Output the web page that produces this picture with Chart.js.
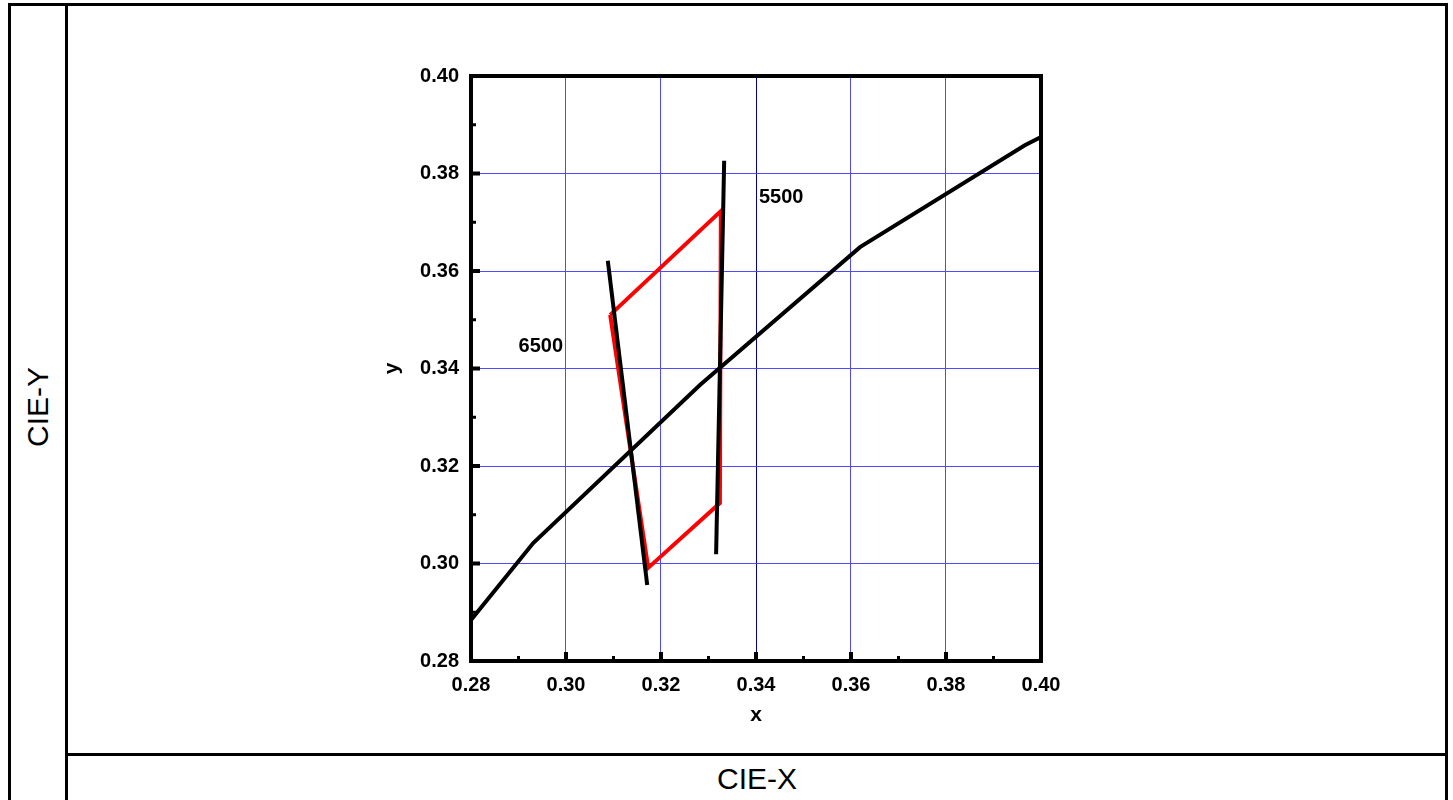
<!DOCTYPE html>
<html>
<head>
<meta charset="utf-8">
<script src="https://cdn.jsdelivr.net/npm/chart.js@4/dist/chart.umd.min.js"></script>
<style>
  body { margin: 0; background: #fff; }
  #wrap { position: relative; width: 1453px; height: 800px; overflow: hidden; font-family: 'Liberation Sans', Arial, sans-serif; }
  .ln { position: absolute; background: #000; }
  .lbl { position: absolute; font-size: 30px; color: #000; }
  canvas { position: absolute; left: 0; top: 0; }
</style>
</head>
<body>
<div id="wrap">
  <div class="ln" style="left:8px;top:3px;width:1440px;height:3px"></div>
  <div class="ln" style="left:8px;top:3px;width:3px;height:800px"></div>
  <div class="ln" style="left:65px;top:3px;width:3px;height:800px"></div>
  <div class="ln" style="left:1445px;top:3px;width:3px;height:800px"></div>
  <div class="ln" style="left:65px;top:753px;width:1383px;height:3px"></div>
  <div class="lbl" style="left:657px;top:762px;width:200px;text-align:center">CIE-X</div>
  <div class="lbl" style="left:-62px;top:390px;width:200px;text-align:center;transform:rotate(-90deg)">CIE-Y</div>
  <canvas id="myChart" width="1453" height="800"></canvas>
</div>
<script>
// planckian locus
const locusX = [0.28, 0.2931, 0.3282, 0.3619, 0.3966, 0.40];
const locusY = [0.2884, 0.3042, 0.3366, 0.3649, 0.3858, 0.3875];

// isotherms
const iso6500X = [0.3088, 0.3171];
const iso6500Y = [0.3621, 0.2956];
const iso5500X = [0.3333, 0.3316];
const iso5500Y = [0.3826, 0.3019];

// red quadrangle
const quadX = [0.3093, 0.3326, 0.3324, 0.3173, 0.3093];
const quadY = [0.3510, 0.3723, 0.3124, 0.2991, 0.3510];

const tempLabels = ['5500', '6500'];
const tempLabelX = [0.3453, 0.2947];
const tempLabelY = [0.3750, 0.3446];

const minorTicks = [0.29, 0.31, 0.33, 0.35, 0.37, 0.39];

const pts = (xs, ys) => xs.map((x, i) => ({ x: x, y: ys[i] }));

Chart.defaults.font.family = "'Liberation Sans', Arial, sans-serif";
Chart.defaults.color = '#000';

const gridColor = ctx => {
  if (ctx.tick && Math.abs(ctx.tick.value - 0.34) < 1e-6 && ctx.scale.axis === 'x') return '#00009a';
  return '#4d4dff';
};

// cadre, graduations vers l'intérieur et étiquettes de température
const framePlugin = {
  id: 'frame',
  afterDatasetsDraw(chart) {
    const { ctx, chartArea: a, scales: { x, y } } = chart;
    ctx.save();
    ctx.strokeStyle = '#000';
    ctx.lineWidth = 4;
    ctx.strokeRect(a.left, a.top, a.right - a.left, a.bottom - a.top);

    x.ticks.forEach(t => {
      const px = x.getPixelForValue(t.value);
      ctx.beginPath(); ctx.moveTo(px, a.bottom); ctx.lineTo(px, a.bottom - 9); ctx.stroke();
    });
    y.ticks.forEach(t => {
      const py = y.getPixelForValue(t.value);
      ctx.beginPath(); ctx.moveTo(a.left, py); ctx.lineTo(a.left + 9, py); ctx.stroke();
    });
    ctx.lineWidth = 3;
    minorTicks.forEach(v => {
      const px = x.getPixelForValue(v);
      ctx.beginPath(); ctx.moveTo(px, a.bottom); ctx.lineTo(px, a.bottom - 5); ctx.stroke();
      const py = y.getPixelForValue(v);
      ctx.beginPath(); ctx.moveTo(a.left, py); ctx.lineTo(a.left + 5, py); ctx.stroke();
    });

    ctx.fillStyle = '#000';
    ctx.font = "bold 20px 'Liberation Sans', Arial, sans-serif";
    ctx.textAlign = 'center';
    ctx.textBaseline = 'middle';
    tempLabels.forEach((s, i) => {
      ctx.fillText(s, x.getPixelForValue(tempLabelX[i]), y.getPixelForValue(tempLabelY[i]));
    });
    ctx.restore();
  }
};

const tickFont = { size: 20, weight: 'bold' };

new Chart(document.getElementById('myChart'), {
  type: 'scatter',
  data: {
    datasets: [
      { label: 'locus', data: pts(locusX, locusY), borderColor: '#000', borderWidth: 4, order: 1 },
      { label: '6500', data: pts(iso6500X, iso6500Y), borderColor: '#000', borderWidth: 4, order: 1 },
      { label: '5500', data: pts(iso5500X, iso5500Y), borderColor: '#000', borderWidth: 4, order: 1 },
      { label: 'quad', data: pts(quadX, quadY), borderColor: '#ff0000', borderWidth: 4, order: 2 }
    ].map(d => Object.assign(d, { showLine: true, pointRadius: 0, pointHoverRadius: 0, tension: 0, fill: false }))
  },
  options: {
    responsive: false,
    animation: false,
    events: [],
    layout: { padding: { left: 370, top: 76, right: 412, bottom: 59 } },
    plugins: { legend: { display: false }, tooltip: { enabled: false } },
    scales: {
      x: {
        type: 'linear', min: 0.28, max: 0.40,
        afterFit: s => { s.height = 80; },
        ticks: { stepSize: 0.02, font: tickFont, padding: 12, maxRotation: 0, callback: v => v.toFixed(2) },
        grid: { color: gridColor, lineWidth: 1, drawTicks: false },
        border: { display: false },
        title: { display: true, text: 'x', font: { size: 21, weight: 'bold' }, padding: { top: 0, bottom: 13 } }
      },
      y: {
        type: 'linear', min: 0.28, max: 0.40,
        afterFit: s => { s.width = 101; },
        ticks: { stepSize: 0.02, font: tickFont, padding: 12, callback: v => v.toFixed(2) },
        grid: { color: gridColor, lineWidth: 1, drawTicks: false },
        border: { display: false },
        title: { display: true, text: 'y', font: { size: 21, weight: 'bold' }, padding: { top: 10, bottom: 0 } }
      }
    }
  },
  plugins: [framePlugin]
});
</script>
</body>
</html>
